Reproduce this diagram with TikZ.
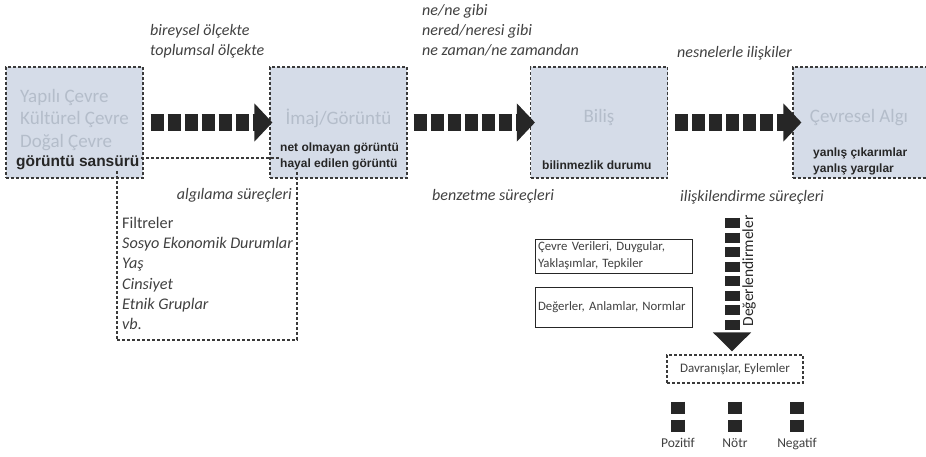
\documentclass[tikz,border=0pt]{standalone}
\usepackage{fontspec}
\setmainfont{Carlito}
\newfontfamily\notefont{Liberation Sans}
\usepackage{xcolor}
\usetikzlibrary{arrows.meta,positioning,calc}
\definecolor{Ink}{HTML}{262626}
\definecolor{Frame}{HTML}{3A3A3A}
\definecolor{StageFill}{HTML}{D5DCE8}
\definecolor{Faded}{HTML}{B4BDCA}
\definecolor{Caption}{HTML}{404040}

\begin{document}
\begin{tikzpicture}[x=1pt,y=-1pt,
  stage/.style={draw=Frame,fill=StageFill,line width=1.1pt,dash pattern=on 3pt off 2pt,minimum width=137pt,minimum height=111pt,inner sep=0pt},
  frame/.style={draw=Frame,line width=1.1pt,dash pattern=on 3pt off 2pt,inner sep=0pt},
  faded/.style={text=Faded,font=\fontsize{19}{22.5}\selectfont,align=left,inner sep=0pt},
  note/.style={text=Ink,font=\notefont\bfseries\fontsize{12}{16}\selectfont,align=left,fill=StageFill,inner sep=1pt},
  cue/.style={text=Caption,font=\itshape\fontsize{16}{20}\selectfont,align=left,inner sep=0pt},
  plain/.style={draw=Ink,line width=0.9pt,minimum width=157pt,text width=151pt,inner sep=3pt,font=\fontsize{12.8}{17}\selectfont,text=Caption,align=left},
  blocks/.style={draw=Ink,line width=17pt,dash pattern=on 13pt off 4pt,-{Triangle[length=18pt,width=37pt]}},
  column/.style={draw=Ink,line width=15pt,dash pattern=on 10pt off 4.5pt,-{Triangle[length=19pt,width=37pt]}},
  pair/.style={draw=Ink,line width=14pt,dash pattern=on 12pt off 6pt},
  small/.style={text=Caption,font=\fontsize{13.5}{15}\selectfont,inner sep=0pt}]
\useasboundingbox (0,0) rectangle (926,457);

% four stages
\node[stage] (env) at (74.5,122.5) {};
\node[stage] (img) at (338.5,122.5) {};
\node[stage] (cog) at (599,122.5) {};
\node[stage] (per) at (861.5,122.5) {};

% filters box behind the first two stages
\node[frame,minimum width=180pt,minimum height=182pt] (filt) at (207,249) {};

\node[faded,anchor=west] (envtxt) at (20,120) {Yapılı Çevre\\Kültürel Çevre\\Doğal Çevre};
\node[note,anchor=west,font=\notefont\bfseries\fontsize{15.5}{18}\selectfont] (censor) at (15,163) {görüntü sansürü};
\node[faded] (imgtxt) at (338.5,118) {İmaj/Görüntü};
\node[note,anchor=west] (vague) at (279,156) {net olmayan görüntü\\hayal edilen görüntü};
\node[faded] (cogtxt) at (599,118) {Biliş};
\node[note,anchor=west] (unknown) at (541,165) {bilinmezlik durumu};
\node[faded] (pertxt) at (859,118) {Çevresel Algı};
\node[note,anchor=west] (wrong) at (812,161.5) {yanlış çıkarımlar\\yanlış yargılar};

% labels over and under the arrows
\node[cue,anchor=west] (scale) at (150,41) {bireysel ölçekte\\toplumsal ölçekte};
\node[cue,anchor=west] (what) at (422,30) {ne/ne gibi\\nered/neresi gibi\\ne zaman/ne zamandan};
\node[cue,anchor=west] (objects) at (677,53) {nesnelerle ilişkiler};
\node[cue,anchor=east] (perceive) at (292,195) {algılama süreçleri};
\node[cue,anchor=west] (liken) at (432,196) {benzetme süreçleri};
\node[cue,anchor=west] (relate) at (680,197) {ilişkilendirme süreçleri};

\node[cue,anchor=north west,font=\fontsize{16.2}{20.2}\selectfont] (filters) at (122,217)
  {Filtreler\\\textit{Sosyo Ekonomik Durumlar}\\\textit{Yaş}\\\textit{Cinsiyet}\\\textit{Etnik Gruplar}\\\textit{vb.}};

% arrows between stages
\draw[blocks] ([xshift=7pt]env.east) -- ([xshift=3pt]img.west);
\draw[blocks] ([xshift=6pt]img.east) -- ([xshift=5pt]cog.west);
\draw[blocks] ([xshift=7pt]cog.east) -- ([xshift=9pt]per.west);

% evaluation part
\node[plain] (data) at (613.5,256) {Çevre Verileri, Duygular,\\Yaklaşımlar, Tepkiler};
\node[plain,minimum height=40pt] (values) at (613.5,307) {Değerler, Anlamlar, Normlar};
\node[frame,minimum width=136pt,minimum height=28pt,small,font=\fontsize{13}{15}\selectfont] (act) at (735,369) {Davranışlar, Eylemler};
\coordinate (evaltop) at (732,218);
\draw[column,shorten >=3pt] (evaltop) -- (act.north -| evaltop);
\node[rotate=90,text=Ink,font=\fontsize{15.5}{18}\selectfont,inner sep=0pt] (evalword) at (749,271) {Değerlendirmeler};

\node[small,anchor=base] (pos) at (678,447) {Pozitif};
\node[small,anchor=base] (neu) at (735,447) {Nötr};
\node[small,anchor=base] (neg) at (797,447) {Negatif};
\foreach \o in {pos,neu,neg}
  \draw[pair] ([yshift=-18pt]act.south -| \o) -- ([yshift=-48pt]act.south -| \o);
\end{tikzpicture}
\end{document}
